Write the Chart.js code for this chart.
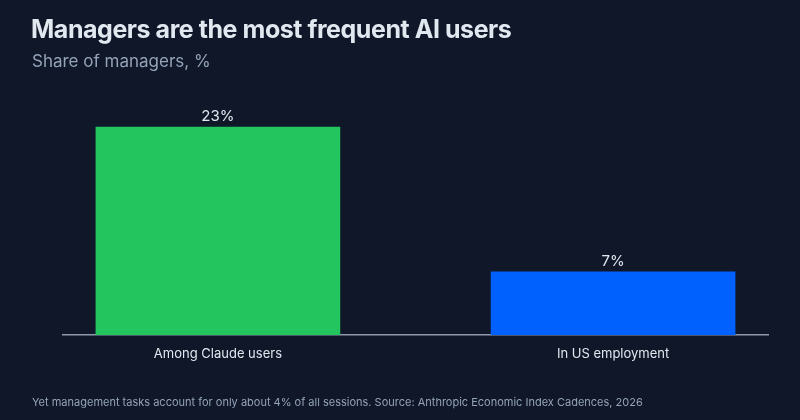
<!DOCTYPE html>
<html>
<head>
<meta charset="utf-8">
<script src="https://cdn.jsdelivr.net/npm/chart.js@4"></script>
<style>
  html, body { margin: 0; padding: 0; background: #0f1729; }
  #wrap { position: relative; width: 800px; height: 420px; font-family: Inter, "Noto Sans", sans-serif; }
  #title { position: absolute; left: 31px; top: 14px; font-size: 25px; font-weight: 700; color: #e2e8f0; letter-spacing: -0.45px; }
  #subtitle { position: absolute; left: 32px; top: 51px; font-size: 17px; color: #94a3b8; }
  #note { position: absolute; left: 32px; top: 395px; font-size: 11px; color: #94a3b8; }
  canvas { position: absolute; left: 0; top: 0; }
</style>
</head>
<body>
<div id="wrap">
  <canvas id="bar_chart" width="800" height="420"></canvas>
  <div id="title">Managers are the most frequent AI users</div>
  <div id="subtitle">Share of managers, %</div>
  <div id="note">Yet management tasks account for only about 4% of all sessions. Source: Anthropic Economic Index Cadences, 2026</div>
</div>
<script>
// ------------- data -------------
const categories = ['Among Claude users', 'In US employment'];
const shareValues = [23, 7];
const barColors = ['#22c55e', '#0061ff'];

// value labels above each bar
const valueLabels = {
    id: 'valueLabels',
    afterDatasetsDraw(chart) {
        const ctx = chart.ctx;
        const meta = chart.getDatasetMeta(0);
        ctx.save();
        ctx.font = '15px Inter';
        ctx.fillStyle = '#e2e8f0';
        ctx.textAlign = 'center';
        ctx.textBaseline = 'alphabetic';
        meta.data.forEach((bar, i) => {
            ctx.fillText(shareValues[i] + '%', bar.x, bar.y - 6);
        });
        ctx.restore();
    }
};

const ctx = document.getElementById('bar_chart');

new Chart(ctx, {
    type: 'bar',
    data: {
        datasets: [{
            data: shareValues.map((v, i) => ({ x: i, y: v })),
            backgroundColor: barColors,
            barThickness: 244,
            borderWidth: 0
        }]
    },
    options: {
        responsive: false,
        animation: false,
        layout: { padding: { left: 63, right: 32, top: 109, bottom: 0 } },
        plugins: {
            legend: { display: false },
            tooltip: { enabled: false }
        },
        scales: {
            x: {
                type: 'linear',
                offset: false,
                min: -0.392,
                max: 1.392,
                z: 1,
                grid: { display: false, offset: false },
                border: { display: true, color: '#8f9aab', width: 1.5 },
                afterBuildTicks(scale) {
                    scale.ticks = categories.map((c, i) => ({ value: i }));
                },
                afterFit(scale) {
                    scale.height = 85;
                },
                ticks: {
                    color: '#e2e8f0',
                    font: { family: 'Inter', size: 13 },
                    padding: 3,
                    maxRotation: 0,
                    callback: (v) => categories[v]
                }
            },
            y: {
                display: false,
                min: 0,
                max: 25
            }
        }
    },
    plugins: [valueLabels]
});
</script>
</body>
</html>
